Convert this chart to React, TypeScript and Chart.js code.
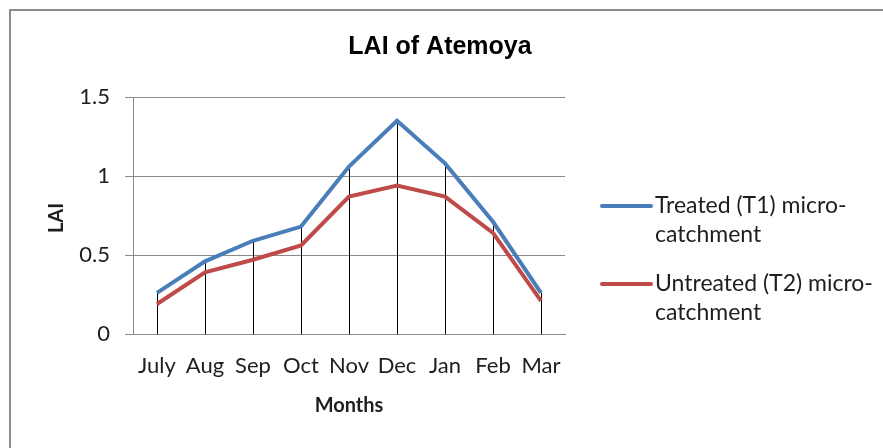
import React, { useEffect, useRef } from "react";
import { Chart, registerables } from "chart.js";

Chart.register(...registerables);

const months = ["July", "Aug", "Sep", "Oct", "Nov", "Dec", "Jan", "Feb", "Mar"];
const treatedT1 = [0.26, 0.46, 0.59, 0.68, 1.06, 1.35, 1.08, 0.71, 0.26];
const untreatedT2 = [0.19, 0.39, 0.47, 0.56, 0.87, 0.94, 0.87, 0.64, 0.21];
const seriesLabels = ["Treated (T1) micro-catchment", "Untreated (T2) micro-catchment"];
const legendLines = [
  ["Treated (T1) micro-", "catchment"],
  ["Untreated (T2) micro-", "catchment"],
];
const chartTitle = "LAI of Atemoya";
const xTitle = "Months";
const yTitle = "LAI";
const yMin = 0;
const yMax = 1.5;
const yStep = 0.5;

const BLUE = "#4a7ebb";
const RED = "#be4b48";
const GRID = "#8a8a8a";
const TEXT = "#1e1e1e";
const FONT = "Lato, 'Open Sans', sans-serif";

const decorPlugin = {
  id: "decor",
  beforeDraw(chart: any) {
    const ctx = chart.ctx;
    ctx.save();
    ctx.fillStyle = "#ffffff";
    ctx.fillRect(0, 0, chart.width, chart.height);
    ctx.fillStyle = "#8c8c8c";
    ctx.fillRect(9, 9, chart.width - 9, 2);
    ctx.fillRect(9, 9, 2, chart.height - 9);
    ctx.restore();
  },
  beforeDatasetsDraw(chart: any) {
    const ctx = chart.ctx;
    const x = chart.scales.x;
    const y = chart.scales.y;
    ctx.save();
    ctx.strokeStyle = "#000000";
    ctx.lineWidth = 1;
    const n = chart.data.labels.length;
    for (let i = 0; i < n; i++) {
      let top = -Infinity;
      chart.data.datasets.forEach((d: any) => {
        if (d.data[i] > top) top = d.data[i];
      });
      const px = Math.round(x.getPixelForValue(i)) + 0.5;
      ctx.beginPath();
      ctx.moveTo(px, y.getPixelForValue(top));
      ctx.lineTo(px, y.getPixelForValue(0));
      ctx.stroke();
    }
    ctx.restore();
  },
  afterDraw(chart: any) {
    const ctx = chart.ctx;
    ctx.save();
    // title
    ctx.fillStyle = "#000000";
    ctx.font = "bold 25px 'Liberation Sans', Arial, sans-serif";
    ctx.textAlign = "center";
    ctx.textBaseline = "middle";
    ctx.fillText(chartTitle, 440, 47);
    // axis titles
    ctx.fillStyle = TEXT;
    ctx.font = `bold 20px ${FONT}`;
    ctx.fillText(xTitle, 349, 406);
    ctx.save();
    ctx.translate(57, 218);
    ctx.rotate(-Math.PI / 2);
    ctx.fillText(yTitle, 0, 0);
    ctx.restore();
    // legend
    const colors = [BLUE, RED];
    const entryY = [206, 284];
    ctx.textAlign = "left";
    ctx.font = `23px ${FONT}`;
    legendLines.forEach((lines, i) => {
      ctx.strokeStyle = colors[i];
      ctx.lineWidth = 4;
      ctx.lineCap = "round";
      ctx.beginPath();
      ctx.moveTo(602, entryY[i]);
      ctx.lineTo(651, entryY[i]);
      ctx.stroke();
      ctx.fillStyle = TEXT;
      lines.forEach((t, j) => {
        ctx.fillText(t, 655, entryY[i] + j * 29);
      });
    });
    ctx.restore();
  },
};

export default function App() {
  const ref = useRef<HTMLCanvasElement | null>(null);
  useEffect(() => {
    if (!ref.current) return;
    const chart = new Chart(ref.current, {
      type: "line",
      data: {
        labels: months,
        datasets: [
          {
            label: seriesLabels[0],
            data: treatedT1,
            borderColor: BLUE,
            backgroundColor: BLUE,
            borderWidth: 4,
            pointRadius: 0,
            tension: 0,
          },
          {
            label: seriesLabels[1],
            data: untreatedT2,
            borderColor: RED,
            backgroundColor: RED,
            borderWidth: 4,
            pointRadius: 0,
            tension: 0,
          },
        ],
      },
      options: {
        animation: false,
        responsive: false,
        devicePixelRatio: 1,
        layout: { padding: { left: 0, top: 97, right: 318, bottom: 0 } },
        plugins: {
          legend: { display: false },
          title: { display: false },
          tooltip: { enabled: false },
        },
        scales: {
          x: {
            offset: true,
            grid: { display: false, drawTicks: false },
            border: { display: true, color: GRID, width: 1 },
            ticks: {
              color: TEXT,
              font: { family: FONT, size: 22 },
              padding: 19,
              maxRotation: 0,
              autoSkip: false,
            },
            afterFit(scale: any) {
              scale.height = 114;
            },
          },
          y: {
            min: yMin,
            max: yMax,
            grid: { color: GRID, tickLength: 8, lineWidth: 1 },
            border: { display: true, color: GRID, width: 1 },
            ticks: {
              stepSize: yStep,
              color: TEXT,
              font: { family: FONT, size: 22 },
              padding: 15,
              callback: (v: any) => String(Number(v)),
            },
            afterFit(scale: any) {
              scale.width = 133;
            },
          },
        },
      },
      plugins: [decorPlugin],
    });
    return () => chart.destroy();
  }, []);
  return (
    <div style={{ position: "fixed", left: 0, top: 0, width: 883, height: 448 }}>
      <canvas ref={ref} width={883} height={448} style={{ display: "block" }} />
    </div>
  );
}
